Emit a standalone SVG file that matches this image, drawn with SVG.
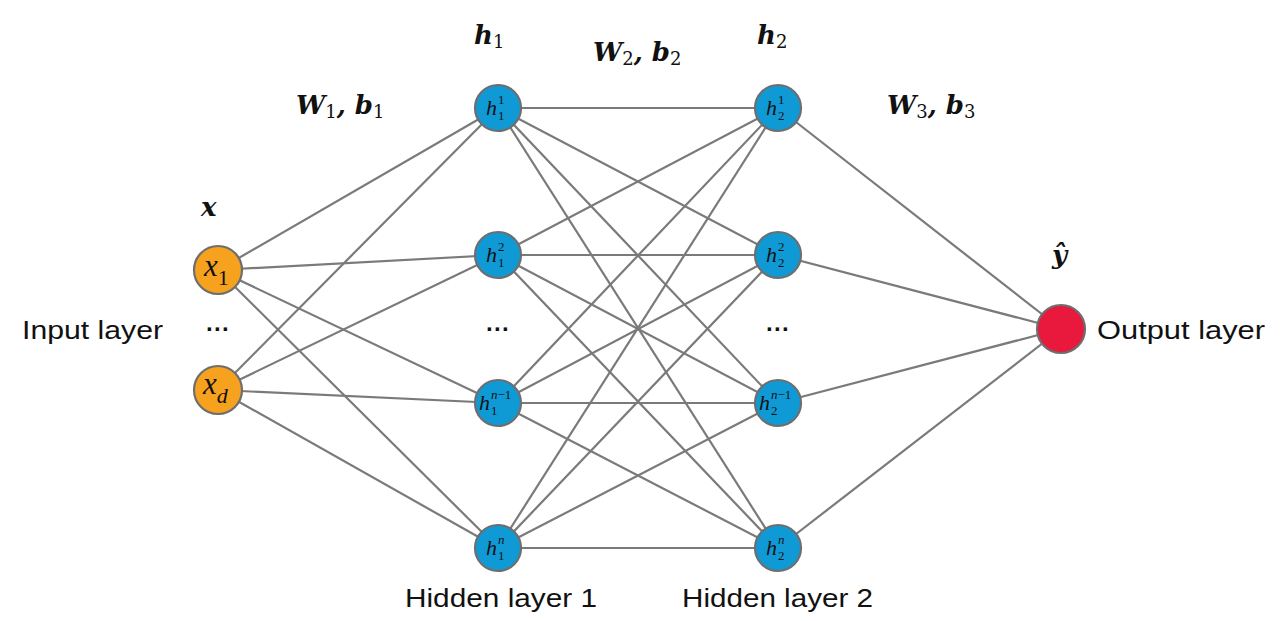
<svg xmlns="http://www.w3.org/2000/svg" width="1280" height="621" viewBox="0 0 1280 621">
<style>
.edge{stroke:#7a7a7a;stroke-width:2.2;fill:none}
.node{stroke:#6e6e6e;stroke-width:2.2}
.in{fill:#f6a21e}
.hid{fill:#0f9ad6}
.out{fill:#e8193c}
.lbl{font-family:"Liberation Sans",Arial,sans-serif;font-size:26px;fill:#111}
.math{font-family:"DejaVu Serif","Liberation Serif",serif;font-weight:bold;font-style:italic;font-size:26px;fill:#111}
.sub{font-family:"DejaVu Serif","Liberation Serif",serif;font-weight:normal;font-style:normal;font-size:18px}
.nl{font-family:"Liberation Serif","Times New Roman",serif;font-style:italic;font-size:22px;fill:#111}
.ns{font-family:"Liberation Serif","Times New Roman",serif;font-style:normal;font-size:13px}
.nsi{font-family:"Liberation Serif","Times New Roman",serif;font-style:italic;font-size:13px}
.xl{font-family:"Liberation Serif","Times New Roman",serif;font-style:italic;font-size:31px;fill:#111}
.xs{font-size:22px}
.dots{font-family:"Liberation Sans",Arial,sans-serif;font-weight:bold;font-size:24px;fill:#111}
</style>
<rect width="1280" height="621" fill="#fff"/>
<g id="connectors">
<line class="edge" x1="218" y1="270" x2="498" y2="108"/>
<line class="edge" x1="218" y1="270" x2="498" y2="255"/>
<line class="edge" x1="218" y1="270" x2="498" y2="403"/>
<line class="edge" x1="218" y1="270" x2="498" y2="548"/>
<line class="edge" x1="218" y1="390" x2="498" y2="108"/>
<line class="edge" x1="218" y1="390" x2="498" y2="255"/>
<line class="edge" x1="218" y1="390" x2="498" y2="403"/>
<line class="edge" x1="218" y1="390" x2="498" y2="548"/>
<line class="edge" x1="498" y1="108" x2="778" y2="108"/>
<line class="edge" x1="498" y1="108" x2="778" y2="255"/>
<line class="edge" x1="498" y1="108" x2="778" y2="403"/>
<line class="edge" x1="498" y1="108" x2="778" y2="548"/>
<line class="edge" x1="498" y1="255" x2="778" y2="108"/>
<line class="edge" x1="498" y1="255" x2="778" y2="255"/>
<line class="edge" x1="498" y1="255" x2="778" y2="403"/>
<line class="edge" x1="498" y1="255" x2="778" y2="548"/>
<line class="edge" x1="498" y1="403" x2="778" y2="108"/>
<line class="edge" x1="498" y1="403" x2="778" y2="255"/>
<line class="edge" x1="498" y1="403" x2="778" y2="403"/>
<line class="edge" x1="498" y1="403" x2="778" y2="548"/>
<line class="edge" x1="498" y1="548" x2="778" y2="108"/>
<line class="edge" x1="498" y1="548" x2="778" y2="255"/>
<line class="edge" x1="498" y1="548" x2="778" y2="403"/>
<line class="edge" x1="498" y1="548" x2="778" y2="548"/>
<line class="edge" x1="778" y1="108" x2="1061" y2="329"/>
<line class="edge" x1="778" y1="255" x2="1061" y2="329"/>
<line class="edge" x1="778" y1="403" x2="1061" y2="329"/>
<line class="edge" x1="778" y1="548" x2="1061" y2="329"/>
</g>
<g id="x1"><circle class="node in" cx="218" cy="270" r="24"/><text class="xl" x="204" y="276">x<tspan class="xs" font-style="normal" dy="9">1</tspan></text></g>
<g id="xd"><circle class="node in" cx="218" cy="390" r="24"/><text class="xl" x="203" y="394">x<tspan class="xs" dy="9">d</tspan></text></g>
<g id="h1_1"><circle class="node hid" cx="498" cy="108" r="23"/><text class="nl" x="486" y="115">h<tspan class="ns" x="498" y="104">1</tspan><tspan class="ns" x="498" y="120">1</tspan></text></g>
<g id="h1_2"><circle class="node hid" cx="498" cy="255" r="23"/><text class="nl" x="486" y="262">h<tspan class="ns" x="498" y="251">2</tspan><tspan class="ns" x="498" y="267">1</tspan></text></g>
<g id="h1_n1"><circle class="node hid" cx="498" cy="403" r="23"/><text class="nl" x="479" y="410">h<tspan class="nsi" x="491" y="399">n</tspan><tspan class="ns" y="399">−1</tspan><tspan class="ns" x="491" y="415">1</tspan></text></g>
<g id="h1_n"><circle class="node hid" cx="498" cy="548" r="23"/><text class="nl" x="486" y="555">h<tspan class="nsi" x="498" y="544">n</tspan><tspan class="ns" x="498" y="560">1</tspan></text></g>
<g id="h2_1"><circle class="node hid" cx="778" cy="108" r="23"/><text class="nl" x="766" y="115">h<tspan class="ns" x="778" y="104">1</tspan><tspan class="ns" x="778" y="120">2</tspan></text></g>
<g id="h2_2"><circle class="node hid" cx="778" cy="255" r="23"/><text class="nl" x="766" y="262">h<tspan class="ns" x="778" y="251">2</tspan><tspan class="ns" x="778" y="267">2</tspan></text></g>
<g id="h2_n1"><circle class="node hid" cx="778" cy="403" r="23"/><text class="nl" x="759" y="410">h<tspan class="nsi" x="771" y="399">n</tspan><tspan class="ns" y="399">−1</tspan><tspan class="ns" x="771" y="415">2</tspan></text></g>
<g id="h2_n"><circle class="node hid" cx="778" cy="548" r="23"/><text class="nl" x="766" y="555">h<tspan class="nsi" x="778" y="544">n</tspan><tspan class="ns" x="778" y="560">2</tspan></text></g>
<g id="out"><circle class="node out" cx="1061" cy="329" r="24"/></g>
<g id="labels">
<text class="lbl" x="22" y="339" textLength="141" lengthAdjust="spacingAndGlyphs">Input layer</text>
<text class="lbl" x="1097" y="339" textLength="168" lengthAdjust="spacingAndGlyphs">Output layer</text>
<text class="lbl" x="405" y="607" textLength="192" lengthAdjust="spacingAndGlyphs">Hidden layer 1</text>
<text class="lbl" x="682" y="607" textLength="191" lengthAdjust="spacingAndGlyphs">Hidden layer 2</text>
<text class="dots" x="218" y="337" text-anchor="middle">···</text>
<text class="dots" x="498" y="337" text-anchor="middle">···</text>
<text class="dots" x="778" y="337" text-anchor="middle">···</text>
<text class="math" x="201" y="216">x</text>
<text class="math" x="474" y="44">h<tspan class="sub" dy="4">1</tspan></text>
<text class="math" x="757" y="44">h<tspan class="sub" dy="4">2</tspan></text>
<text class="math" x="296" y="114">W<tspan class="sub" dy="4">1</tspan><tspan dy="-4">, b</tspan><tspan class="sub" dy="4">1</tspan></text>
<text class="math" x="593" y="61">W<tspan class="sub" dy="4">2</tspan><tspan dy="-4">, b</tspan><tspan class="sub" dy="4">2</tspan></text>
<text class="math" x="887" y="114">W<tspan class="sub" dy="4">3</tspan><tspan dy="-4">, b</tspan><tspan class="sub" dy="4">3</tspan></text>
<text class="math" x="1052" y="264">ŷ</text>
</g>
</svg>
